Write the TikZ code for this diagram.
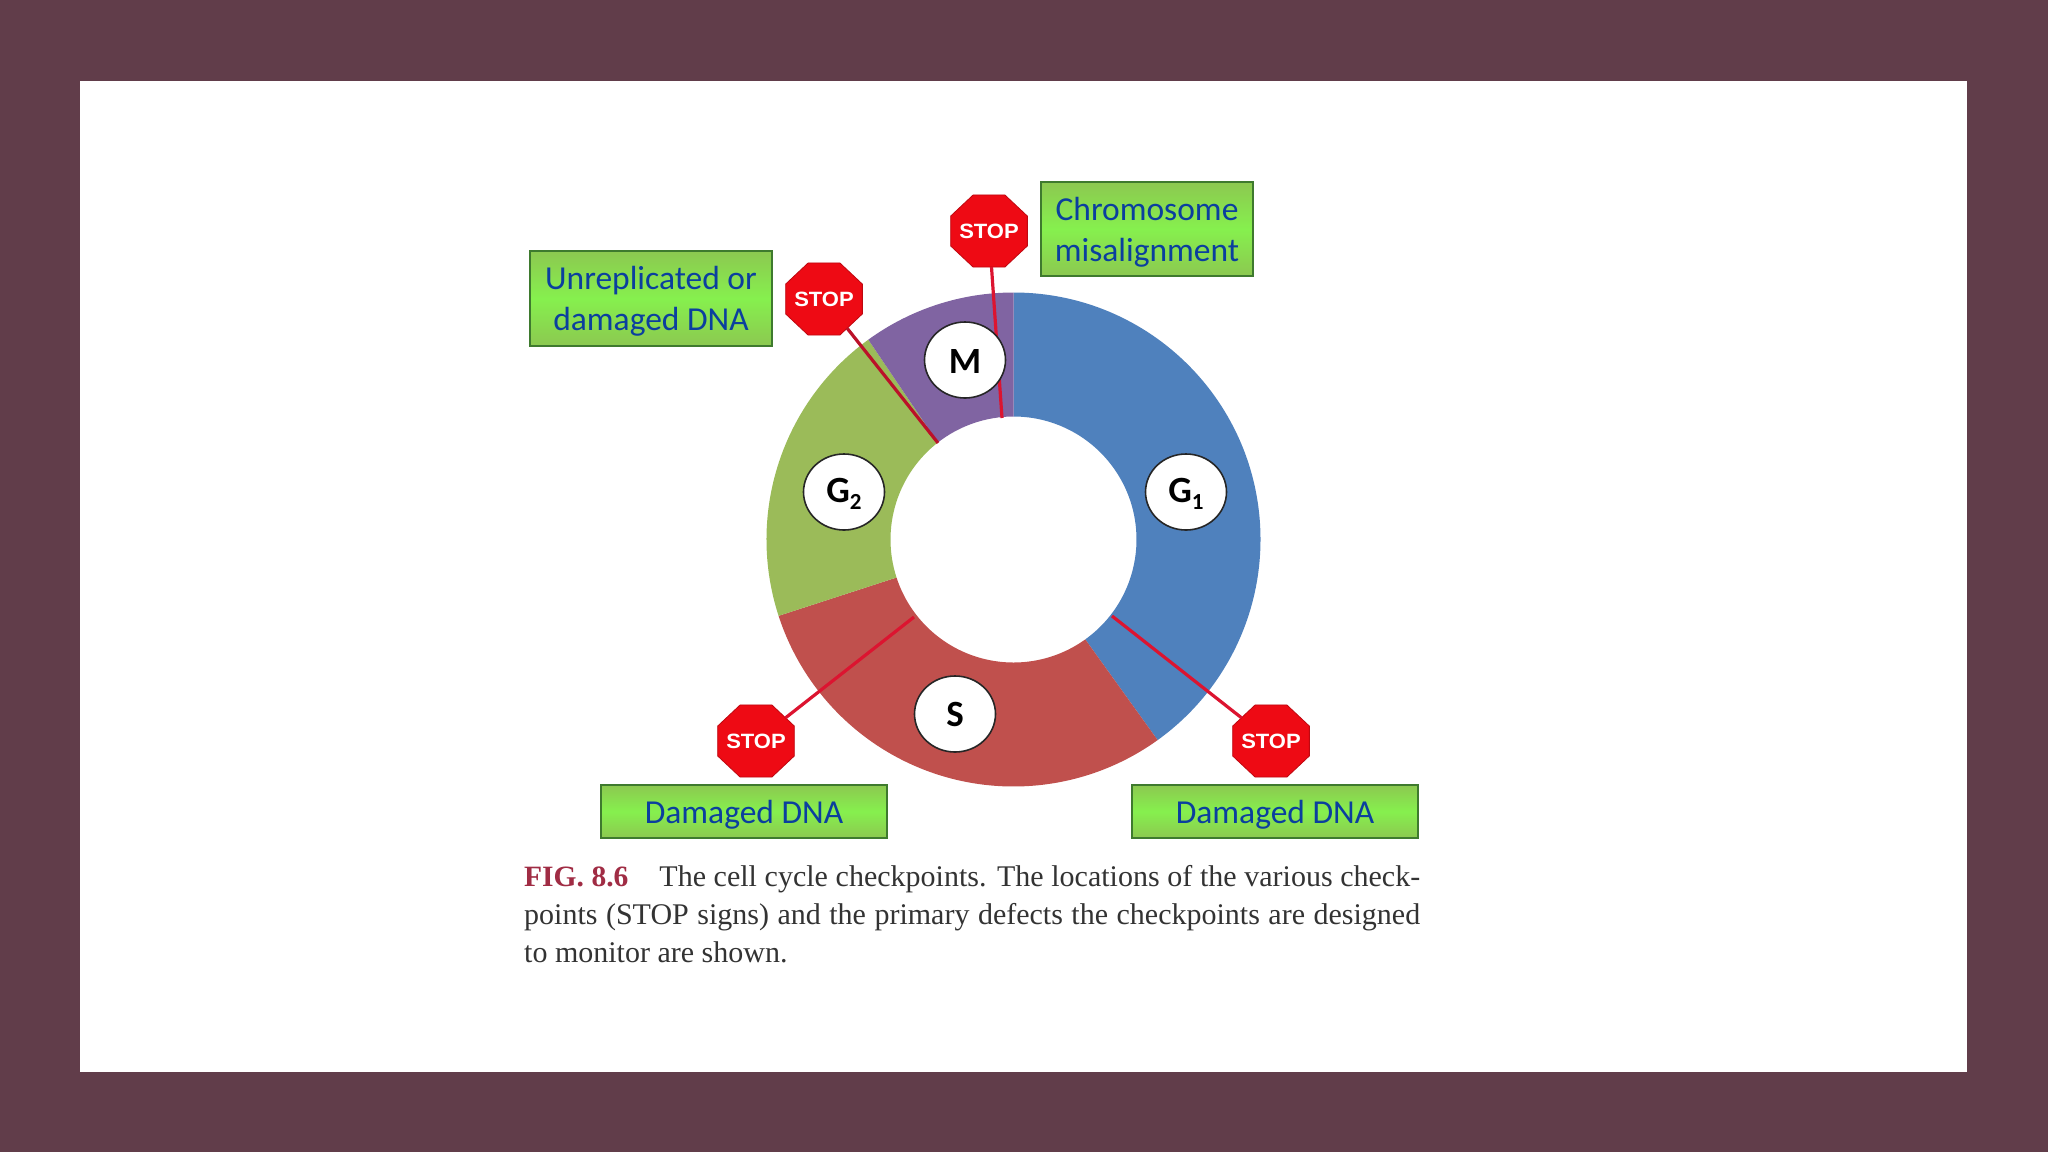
\documentclass[tikz,border=0pt]{standalone}
\usepackage{fontspec}
\setmainfont{Liberation Serif}
\newfontfamily\carlito{Carlito}
\newfontfamily\arialish{Liberation Sans}
\usetikzlibrary{shapes.geometric,calc}
\definecolor{framecol}{HTML}{613D4A}
\definecolor{gonecol}{HTML}{4F81BD}
\definecolor{scol}{HTML}{C0504D}
\definecolor{gtwocol}{HTML}{9BBB59}
\definecolor{mcol}{HTML}{8064A2}
\definecolor{stopred}{HTML}{EE0A14}
\definecolor{linkred}{HTML}{DC1430}
\definecolor{boxedge}{HTML}{3E7A2E}
\definecolor{boxlight}{HTML}{86F04E}
\definecolor{boxdark}{HTML}{8CC850}
\definecolor{labelblue}{HTML}{0B3F9E}
\definecolor{figred}{HTML}{A02C44}
\definecolor{captext}{HTML}{333333}
\tikzset{
  x=1pt,y=-1pt,
  stopsign/.style={regular polygon,regular polygon sides=8,minimum size=83pt,inner sep=0pt,outer sep=0pt,
    yscale=.94,transform shape,fill=stopred,draw=stopred!80!black,line width=.8pt,text=white,
    font=\arialish\bfseries\fontsize{22}{22}\selectfont},
  phase/.style={ellipse,draw=black!85,line width=1.6pt,fill=white,minimum width=81pt,minimum height=76pt,
    inner sep=0pt,font=\carlito\bfseries\fontsize{37}{37}\selectfont},
  defect/.style={rectangle,draw=boxedge,line width=2pt,inner sep=0pt,anchor=north west,
    top color=boxdark,bottom color=boxdark,middle color=boxlight,
    text=labelblue,align=center,font=\carlito\fontsize{33.5}{41}\selectfont},
  link/.style={draw=linkred,line width=3.2pt},
  capline/.style={anchor=base west,inner sep=0pt,text=captext,font=\fontsize{30}{30}\selectfont}
}
\newcommand{\subdigit}[1]{\raisebox{-7pt}{\fontsize{23}{23}\selectfont #1}}
\newcommand{\dn}[2][3pt]{\raisebox{-#1}[\height][\depth]{#2}}
\newcommand{\stoplabel}{\raisebox{-8pt}[0pt][0pt]{\makebox[0pt]{STOP}}}
\begin{document}
\begin{tikzpicture}
\path[use as bounding box,fill=framecol] (0,0) rectangle (2048,1152);
\fill[white] (80,81) rectangle (1967,1072);
% ring
\begin{scope}[shift={(1013.5,539.5)}]
\fill[gonecol] (90:247pt) arc[start angle=90,end angle=-54.3,radius=247pt] -- (-54.3:123pt) arc[start angle=-54.3,end angle=90,radius=123pt] -- cycle;
\fill[scol] (-54.3:247pt) arc[start angle=-54.3,end angle=-162,radius=247pt] -- (-162:123pt) arc[start angle=-162,end angle=-54.3,radius=123pt] -- cycle;
\fill[gtwocol] (198:247pt) arc[start angle=198,end angle=126,radius=247pt] -- (128:123pt) arc[start angle=128,end angle=198,radius=123pt] -- cycle;
\fill[mcol] (126:247pt) arc[start angle=126,end angle=90,radius=247pt] -- (90:123pt) arc[start angle=90,end angle=128,radius=123pt] -- cycle;
\end{scope}
% stop signs
\node[stopsign] (stopm) at (989,231) {\stoplabel};
\node[stopsign] (stoptwo) at (824,299) {\stoplabel};
\node[stopsign] (stops) at (756,741) {\stoplabel};
\node[stopsign] (stopone) at (1271,741) {\stoplabel};
% connector ends on the inner rim
\coordinate (endm) at (1002,418);
\coordinate (endtwo) at (938,443);
\coordinate (ends) at (914,617);
\coordinate (endone) at (1112,616);
\draw[link] (stopm) -- (endm);
\draw[link,draw=linkred!85!black] (stoptwo) -- (endtwo);
\draw[link] (stops) -- (ends);
\draw[link] (stopone) -- (endone);
% phases
\node[phase] (phm) at (965,360) {\dn[1pt]{M}};
\node[phase] (phone) at (1186,492) {\dn[2pt]{G\subdigit{1}}};
\node[phase] (phtwo) at (844,492) {\dn[2pt]{G\subdigit{2}}};
\node[phase] (phs) at (955,714) {S};
% defects
\node[defect,minimum width=212pt,minimum height=94pt] (dm) at (1040,181) {\dn{Chromosome}\\\dn{misalignment}};
\node[defect,minimum width=242pt,minimum height=95pt] (dtwo) at (529,250) {\dn{Unreplicated or}\\\dn{damaged DNA}};
\node[defect,minimum width=286pt,minimum height=53pt] (ds) at (600,784) {\dn{Damaged DNA}};
\node[defect,minimum width=286pt,minimum height=53pt] (done) at (1131,784) {\dn{Damaged DNA}};
% caption
\node[capline] (capa) at (524,886) {\hbox to 896pt{{\color{figred}\bfseries\fontsize{29.5}{29.5}\selectfont FIG. 8.6}\hspace{31pt}The cell cycle checkpoints. The locations of the various check-}};
\node[capline] (capb) at (524,924) {\hbox to 896pt{points (STOP signs) and the primary defects the checkpoints are designed}};
\node[capline] (capc) at (524,962) {to monitor are shown.};
\end{tikzpicture}
\end{document}
